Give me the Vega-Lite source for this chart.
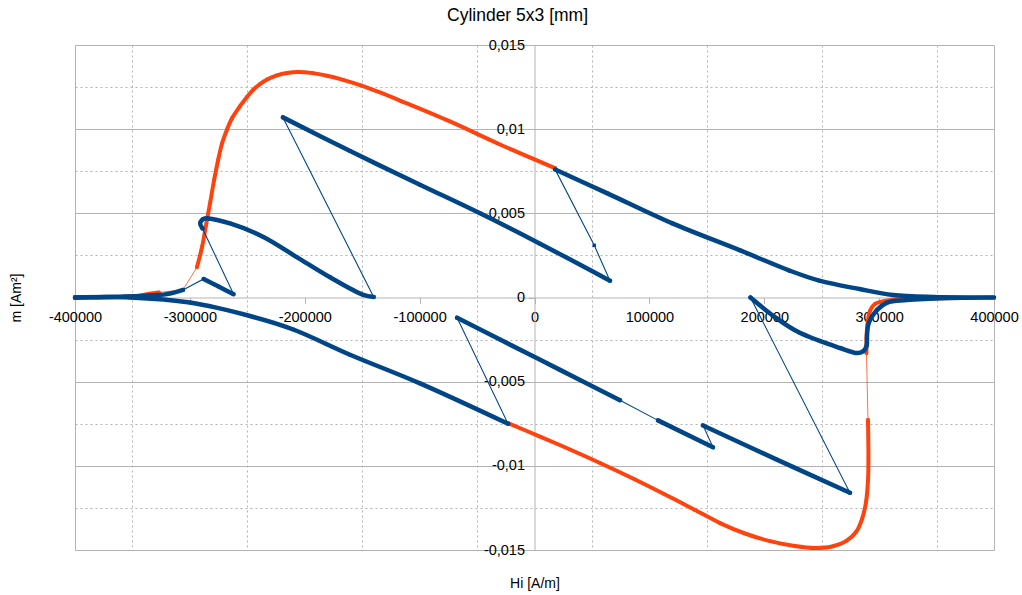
{
  "$schema": "https://vega.github.io/schema/vega-lite/v6.json",
  "width": 919,
  "height": 505,
  "autosize": "none",
  "padding": {"left": 75, "top": 45, "right": 28, "bottom": 45},
  "background": "#ffffff",
  "title": {"text": "Cylinder 5x3 [mm]", "frame": "group", "anchor": "middle", "fontSize": 17.5, "fontWeight": "normal", "font": "Liberation Sans", "color": "#000000", "offset": 13, "dx": -17},
  "config": {
    "view": {"stroke": "#b3b3b3", "strokeWidth": 1},
    "axis": {"labelFont": "Liberation Sans", "titleFont": "Liberation Sans", "labelColor": "#000000", "titleColor": "#000000", "titleFontWeight": "normal", "labelFlush": false, "labelOverlap": false, "labelBound": false, "gridColor": "#b3b3b3", "gridOpacity": 1, "gridWidth": 1, "domainColor": "#b3b3b3", "tickColor": "#b3b3b3", "domainWidth": 1, "tickWidth": 1}
  },
  "datasets": {
    "orange": [
      {"seq": 1, "branch": "o1", "H": -400000, "m": 0},
      {"seq": 2, "branch": "o1", "H": -370000, "m": 0.00002},
      {"seq": 3, "branch": "o1", "H": -350000, "m": 0.00006},
      {"seq": 4, "branch": "o1", "H": -335000, "m": 0.00022},
      {"seq": 5, "branch": "o1", "H": -327000, "m": 0.0003},
      {"seq": 6, "branch": null, "H": -306000, "m": 0.00045},
      {"seq": 7, "branch": "o2", "H": -293800, "m": 0.00181},
      {"seq": 8, "branch": "o2", "H": -289400, "m": 0.003},
      {"seq": 9, "branch": "o2", "H": -285900, "m": 0.00431},
      {"seq": 10, "branch": "o2", "H": -282400, "m": 0.00561},
      {"seq": 11, "branch": "o2", "H": -278900, "m": 0.00698},
      {"seq": 12, "branch": "o2", "H": -275400, "m": 0.00817},
      {"seq": 13, "branch": "o2", "H": -271900, "m": 0.00918},
      {"seq": 14, "branch": "o2", "H": -267500, "m": 0.01001},
      {"seq": 15, "branch": "o2", "H": -263200, "m": 0.01066},
      {"seq": 16, "branch": "o2", "H": -256200, "m": 0.01138},
      {"seq": 17, "branch": "o2", "H": -250300, "m": 0.01191},
      {"seq": 18, "branch": "o2", "H": -245000, "m": 0.01233},
      {"seq": 19, "branch": "o2", "H": -239000, "m": 0.01268},
      {"seq": 20, "branch": "o2", "H": -232000, "m": 0.01298},
      {"seq": 21, "branch": "o2", "H": -224200, "m": 0.0132},
      {"seq": 22, "branch": "o2", "H": -215500, "m": 0.01334},
      {"seq": 23, "branch": "o2", "H": -205900, "m": 0.0134},
      {"seq": 24, "branch": "o2", "H": -192800, "m": 0.01333},
      {"seq": 25, "branch": "o2", "H": -180600, "m": 0.01317},
      {"seq": 26, "branch": "o2", "H": -166700, "m": 0.01293},
      {"seq": 27, "branch": "o2", "H": -151900, "m": 0.01262},
      {"seq": 28, "branch": "o2", "H": -134500, "m": 0.01218},
      {"seq": 29, "branch": "o2", "H": -117100, "m": 0.0117},
      {"seq": 30, "branch": "o2", "H": -73600, "m": 0.01046},
      {"seq": 31, "branch": "o2", "H": -30000, "m": 0.00909},
      {"seq": 32, "branch": "o2", "H": 17800, "m": 0.00769},
      {"seq": 33, "branch": null, "H": 63000, "m": 0.0062},
      {"seq": 34, "branch": null, "H": 120000, "m": 0.0044},
      {"seq": 35, "branch": null, "H": 179000, "m": 0.0028},
      {"seq": 36, "branch": null, "H": 222000, "m": 0.0016},
      {"seq": 37, "branch": null, "H": 248000, "m": 0.001},
      {"seq": 38, "branch": null, "H": 283000, "m": 0.0005},
      {"seq": 39, "branch": null, "H": 312000, "m": 0.00015},
      {"seq": 40, "branch": null, "H": 347000, "m": 0.00003},
      {"seq": 41, "branch": "o3", "H": 400000, "m": 0},
      {"seq": 42, "branch": "o3", "H": 350000, "m": -0.00005},
      {"seq": 43, "branch": "o3", "H": 320000, "m": -0.0001},
      {"seq": 44, "branch": "o3", "H": 305000, "m": -0.0002},
      {"seq": 45, "branch": "o3", "H": 296000, "m": -0.0004},
      {"seq": 46, "branch": "o3", "H": 292000, "m": -0.0008},
      {"seq": 47, "branch": "o3", "H": 290000, "m": -0.0015},
      {"seq": 48, "branch": "o3", "H": 289000, "m": -0.0025},
      {"seq": 49, "branch": "o3", "H": 289000, "m": -0.0033},
      {"seq": 50, "branch": "o4", "H": 290300, "m": -0.00728},
      {"seq": 51, "branch": "o4", "H": 290700, "m": -0.00965},
      {"seq": 52, "branch": "o4", "H": 290300, "m": -0.0109},
      {"seq": 53, "branch": "o4", "H": 288600, "m": -0.01215},
      {"seq": 54, "branch": "o4", "H": 285100, "m": -0.01316},
      {"seq": 55, "branch": "o4", "H": 279900, "m": -0.01393},
      {"seq": 56, "branch": "o4", "H": 271200, "m": -0.01447},
      {"seq": 57, "branch": "o4", "H": 259000, "m": -0.01479},
      {"seq": 58, "branch": "o4", "H": 244100, "m": -0.01488},
      {"seq": 59, "branch": "o4", "H": 226700, "m": -0.01476},
      {"seq": 60, "branch": "o4", "H": 205000, "m": -0.01447},
      {"seq": 61, "branch": "o4", "H": 183200, "m": -0.01402},
      {"seq": 62, "branch": "o4", "H": 161500, "m": -0.0134},
      {"seq": 63, "branch": "o4", "H": 139700, "m": -0.01262},
      {"seq": 64, "branch": "o4", "H": 113600, "m": -0.0117},
      {"seq": 65, "branch": "o4", "H": 87500, "m": -0.01081},
      {"seq": 66, "branch": "o4", "H": 57000, "m": -0.00983},
      {"seq": 67, "branch": "o4", "H": 30900, "m": -0.00903},
      {"seq": 68, "branch": "o4", "H": 4800, "m": -0.00826},
      {"seq": 69, "branch": "o4", "H": -23100, "m": -0.00746}
    ],
    "blue": [
      {"seq": 1, "branch": "b1", "H": -400000, "m": 0},
      {"seq": 2, "branch": "b1", "H": -380000, "m": 0.00002},
      {"seq": 3, "branch": "b1", "H": -360000, "m": 0.00005},
      {"seq": 4, "branch": "b1", "H": -340000, "m": 0.0001},
      {"seq": 5, "branch": "b1", "H": -320000, "m": 0.0002},
      {"seq": 6, "branch": "b1", "H": -306000, "m": 0.00045},
      {"seq": 7, "branch": "b2", "H": -288000, "m": 0.0011},
      {"seq": 8, "branch": "b2", "H": -275000, "m": 0.00065},
      {"seq": 9, "branch": "b2", "H": -262000, "m": 0.0002},
      {"seq": 10, "branch": "b3", "H": -289000, "m": 0.0041},
      {"seq": 11, "branch": "b3", "H": -291000, "m": 0.0044},
      {"seq": 12, "branch": "b3", "H": -288500, "m": 0.00466},
      {"seq": 13, "branch": "b3", "H": -284000, "m": 0.0047},
      {"seq": 14, "branch": "b3", "H": -265000, "m": 0.0044},
      {"seq": 15, "branch": "b3", "H": -236000, "m": 0.0036},
      {"seq": 16, "branch": "b3", "H": -207000, "m": 0.0024},
      {"seq": 17, "branch": "b3", "H": -178000, "m": 0.0012},
      {"seq": 18, "branch": "b3", "H": -149000, "m": 0.00015},
      {"seq": 19, "branch": "b3", "H": -140000, "m": 0.00003},
      {"seq": 20, "branch": "b4", "H": -219000, "m": 0.0107},
      {"seq": 21, "branch": "b4", "H": -160500, "m": 0.0087},
      {"seq": 22, "branch": "b4", "H": -99700, "m": 0.0067},
      {"seq": 23, "branch": "b4", "H": -47400, "m": 0.005},
      {"seq": 24, "branch": "b4", "H": 4800, "m": 0.0032},
      {"seq": 25, "branch": "b4", "H": 65700, "m": 0.001},
      {"seq": 26, "branch": null, "H": 52000, "m": 0.0031},
      {"seq": 27, "branch": "b5", "H": 18000, "m": 0.0076},
      {"seq": 28, "branch": "b5", "H": 63000, "m": 0.0062},
      {"seq": 29, "branch": "b5", "H": 120000, "m": 0.0044},
      {"seq": 30, "branch": "b5", "H": 179000, "m": 0.0028},
      {"seq": 31, "branch": "b5", "H": 222000, "m": 0.0016},
      {"seq": 32, "branch": "b5", "H": 248000, "m": 0.001},
      {"seq": 33, "branch": "b5", "H": 283000, "m": 0.0005},
      {"seq": 34, "branch": "b5", "H": 312000, "m": 0.00015},
      {"seq": 35, "branch": "b5", "H": 347000, "m": 0.00003},
      {"seq": 36, "branch": "b5", "H": 400000, "m": 0},
      {"seq": 37, "branch": "b5", "H": 360000, "m": -0.00003},
      {"seq": 38, "branch": "b5", "H": 324000, "m": -0.00015},
      {"seq": 39, "branch": "b5", "H": 307000, "m": -0.0003},
      {"seq": 40, "branch": "b5", "H": 298000, "m": -0.00075},
      {"seq": 41, "branch": "b5", "H": 291000, "m": -0.0015},
      {"seq": 42, "branch": "b5", "H": 289500, "m": -0.0022},
      {"seq": 43, "branch": "b5", "H": 289000, "m": -0.0029},
      {"seq": 44, "branch": "b5", "H": 286000, "m": -0.0032},
      {"seq": 45, "branch": "b5", "H": 281000, "m": -0.0033},
      {"seq": 46, "branch": "b5", "H": 266000, "m": -0.003},
      {"seq": 47, "branch": "b5", "H": 231000, "m": -0.0021},
      {"seq": 48, "branch": "b5", "H": 210000, "m": -0.0012},
      {"seq": 49, "branch": "b5", "H": 188000, "m": 0},
      {"seq": 50, "branch": "b6", "H": 274600, "m": -0.0116},
      {"seq": 51, "branch": "b6", "H": 210000, "m": -0.0096},
      {"seq": 52, "branch": "b6", "H": 146700, "m": -0.0076},
      {"seq": 53, "branch": "b7", "H": 155400, "m": -0.0089},
      {"seq": 54, "branch": "b7", "H": 107500, "m": -0.0073},
      {"seq": 55, "branch": "b8", "H": 74400, "m": -0.0061},
      {"seq": 56, "branch": "b8", "H": 22200, "m": -0.0043},
      {"seq": 57, "branch": "b8", "H": -30000, "m": -0.0025},
      {"seq": 58, "branch": "b8", "H": -67400, "m": -0.0012},
      {"seq": 59, "branch": "b9", "H": -23000, "m": -0.0075},
      {"seq": 60, "branch": "b9", "H": -99700, "m": -0.0051},
      {"seq": 61, "branch": "b9", "H": -160600, "m": -0.0034},
      {"seq": 62, "branch": "b9", "H": -210000, "m": -0.0019},
      {"seq": 63, "branch": "b9", "H": -247700, "m": -0.0011},
      {"seq": 64, "branch": "b9", "H": -300000, "m": -0.0003},
      {"seq": 65, "branch": "b9", "H": -352000, "m": 0},
      {"seq": 66, "branch": "b9", "H": -400000, "m": 0}
    ]
  },
  "resolve": {"axis": {"x": "independent", "y": "independent"}},
  "layer": [
    {
      "data": {"name": "orange"},
      "mark": {"type": "line", "color": "#ff420e", "strokeWidth": 1, "opacity": 0.75},
      "encoding": {
        "x": {"field": "H", "type": "quantitative", "scale": {"domain": [-400000, 400000], "nice": false, "zero": false},
          "axis": {"orient": "bottom", "values": [-350000, -250000, -150000, -50000, 50000, 150000, 250000, 350000], "grid": true, "gridDash": [2, 3], "labels": false, "ticks": false, "domain": false, "title": null}},
        "y": {"field": "m", "type": "quantitative", "scale": {"domain": [-0.015, 0.015], "nice": false, "zero": false},
          "axis": {"orient": "left", "values": [-0.01, -0.005, 0.005, 0.01], "grid": true, "labels": false, "ticks": false, "domain": false, "title": null}},
        "order": {"field": "seq", "type": "quantitative"}
      }
    },
    {
      "data": {"name": "orange"},
      "transform": [{"filter": "isValid(datum.branch)"}],
      "mark": {"type": "line", "color": "#ff420e", "strokeWidth": 4, "strokeJoin": "round", "strokeCap": "round", "interpolate": "catmull-rom"},
      "encoding": {
        "x": {"field": "H", "type": "quantitative", "axis": null},
        "y": {"field": "m", "type": "quantitative",
          "axis": {"orient": "left", "values": [-0.0125, -0.0075, -0.0025, 0.0025, 0.0075, 0.0125], "grid": true, "gridDash": [2, 3], "labels": false, "ticks": false, "domain": false, "title": null}},
        "detail": {"field": "branch", "type": "nominal"},
        "order": {"field": "seq", "type": "quantitative"}
      }
    },
    {
      "data": {"name": "orange"},
      "mark": {"type": "square", "color": "#ff420e", "size": 10, "opacity": 1},
      "encoding": {
        "x": {"field": "H", "type": "quantitative", "axis": null},
        "y": {"field": "m", "type": "quantitative", "axis": null}
      }
    },
    {
      "data": {"name": "blue"},
      "mark": {"type": "line", "color": "#004586", "strokeWidth": 1.1},
      "encoding": {
        "x": {"field": "H", "type": "quantitative", "axis": null},
        "y": {"field": "m", "type": "quantitative", "axis": null},
        "order": {"field": "seq", "type": "quantitative"}
      }
    },
    {
      "data": {"name": "blue"},
      "transform": [{"filter": "isValid(datum.branch)"}],
      "mark": {"type": "line", "color": "#004586", "strokeWidth": 4.5, "strokeJoin": "round", "strokeCap": "round", "interpolate": "catmull-rom"},
      "encoding": {
        "x": {"field": "H", "type": "quantitative",
          "axis": {"orient": "bottom", "offset": -252.5, "values": [-400000, -300000, -200000, -100000, 0, 100000, 200000, 300000, 400000], "grid": false, "domain": true, "ticks": true, "tickSize": 6, "labelExpr": "'' + datum.value", "labelFontSize": 14.5, "labelPadding": 7, "title": "Hi [A/m]", "titleFontSize": 14, "titleY": 285.5, "titleBaseline": "middle"}},
        "y": {"field": "m", "type": "quantitative",
          "axis": {"orient": "left", "offset": -459.5, "values": [-0.015, -0.01, -0.005, 0, 0.005, 0.01, 0.015], "grid": false, "domain": true, "ticks": true, "tickSize": 6, "labelExpr": "replace('' + datum.value, '.', ',')", "labelFontSize": 14.5, "labelPadding": 4, "title": "m [Am²]", "titleFontSize": 14, "titleX": -518.5, "titleY": 252.5, "titleBaseline": "middle", "titleAngle": -90}},
        "detail": {"field": "branch", "type": "nominal"},
        "order": {"field": "seq", "type": "quantitative"}
      }
    },
    {
      "data": {"name": "blue"},
      "mark": {"type": "square", "color": "#004586", "size": 12, "opacity": 1},
      "encoding": {
        "x": {"field": "H", "type": "quantitative", "axis": null},
        "y": {"field": "m", "type": "quantitative", "axis": null}
      }
    }
  ]
}
